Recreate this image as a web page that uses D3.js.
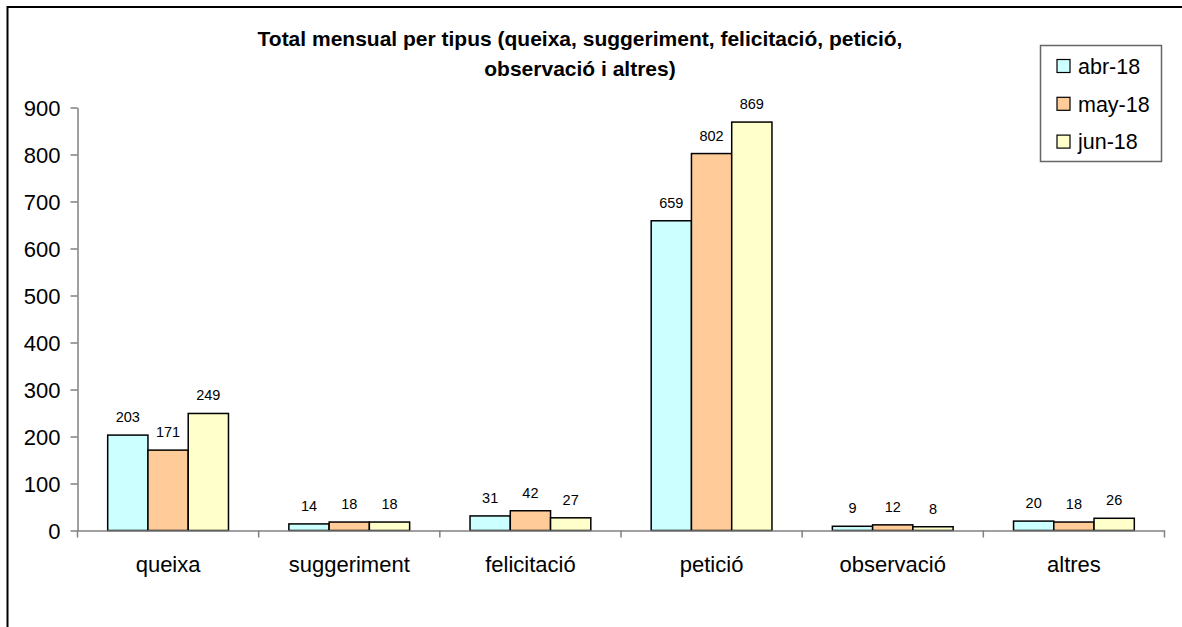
<!DOCTYPE html>
<html>

<head>
  <meta charset="utf-8">
  <title>Total mensual per tipus</title>
  <script src="https://d3js.org/d3.v7.min.js"></script>
  <style type="text/css">
    body {
      margin: 0;
      background: #fff;
    }

    svg {
      display: block;
      font-family: "Liberation Sans", Arial, sans-serif;
    }

    .axis path,
    .axis line {
      stroke: #808080;
      stroke-width: 1.5px;
    }

    .axis text {
      fill: #000;
    }

    .bar {
      stroke: #000;
      stroke-width: 1.5px;
    }
  </style>
</head>

<body>
  <svg id="chart" width="1182" height="627"></svg>
  <script>
    // dades llegides del gràfic
    var categories = ["queixa", "suggeriment", "felicitació", "petició", "observació", "altres"];
    var months = ["abr-18", "may-18", "jun-18"];
    var abr18 = [203, 14, 31, 659, 9, 20];
    var may18 = [171, 18, 42, 802, 12, 18];
    var jun18 = [249, 18, 27, 869, 8, 26];
    var yTicks = [0, 100, 200, 300, 400, 500, 600, 700, 800, 900];
    var colors = ["#ccffff", "#ffcc99", "#ffffcc"];
    var titleLines = ["Total mensual per tipus (queixa, suggeriment, felicitació, petició,", "observació i altres)"];

    var series = [abr18, may18, jun18];

    var svg = d3.select("#chart");

    // marc exterior (només es veuen els costats superior i esquerre)
    svg.append("rect")
      .attr("x", 7.5)
      .attr("y", 7)
      .attr("width", 1200)
      .attr("height", 700)
      .attr("fill", "none")
      .attr("stroke", "#000")
      .attr("stroke-width", 2);

    // escales
    var x0 = d3.scaleBand()
      .domain(categories)
      .range([77.5, 1164.5])
      .paddingInner(0)
      .paddingOuter(0);

    var x1 = d3.scaleBand()
      .domain(d3.range(months.length))
      .range([0, x0.bandwidth()])
      .paddingOuter(0.75)
      .paddingInner(0);

    var y = d3.scaleLinear()
      .domain([0, 900])
      .range([530.5, 107.5]);

    // eix Y
    var yAxis = svg.append("g")
      .attr("class", "axis")
      .attr("transform", "translate(77.5,0)")
      .call(d3.axisLeft(y).tickValues(yTicks).tickSize(7).tickSizeOuter(0).tickPadding(10));
    yAxis.selectAll("text")
      .style("font-size", "22px")
      .attr("dy", "0.36em");

    // barres
    var groups = svg.selectAll(".group")
      .data(categories)
      .enter()
      .append("g")
      .attr("class", "group")
      .attr("transform", function (d) { return "translate(" + x0(d) + ",0)"; });

    groups.selectAll(".bar")
      .data(function (d, i) {
        return series.map(function (s, j) { return { m: j, value: s[i] }; });
      })
      .enter()
      .append("rect")
      .attr("class", "bar")
      .attr("x", function (d) { return x1(d.m); })
      .attr("width", x1.bandwidth())
      .attr("y", function (d) { return y(d.value); })
      .attr("height", function (d) { return y(0) - y(d.value); })
      .attr("fill", function (d) { return colors[d.m]; });

    // etiquetes de valor
    groups.selectAll(".val")
      .data(function (d, i) {
        return series.map(function (s, j) { return { m: j, value: s[i] }; });
      })
      .enter()
      .append("text")
      .attr("class", "val")
      .attr("x", function (d) { return x1(d.m) + x1.bandwidth() / 2; })
      .attr("y", function (d) { return y(d.value) - 13; })
      .attr("text-anchor", "middle")
      .style("font-size", "14.5px")
      .text(function (d) { return d.value; });

    // eix X
    var xAxis = svg.append("g")
      .attr("class", "axis")
      .attr("transform", "translate(0," + y(0) + ")")
      .call(d3.axisBottom(x0).tickSize(0).tickSizeOuter(0).tickPadding(26));
    xAxis.selectAll("text")
      .style("font-size", "22px");
    // separadors entre categories (inclòs l'inici de l'eix)
    var edges = [x0.range()[0]].concat(categories.map(function (d) { return x0(d) + x0.bandwidth(); }));
    xAxis.selectAll(".sep")
      .data(edges)
      .enter()
      .append("line")
      .attr("class", "sep")
      .attr("x1", function (d) { return d; })
      .attr("x2", function (d) { return d; })
      .attr("y1", 0)
      .attr("y2", 7);

    // títol
    svg.append("g")
      .selectAll("text")
      .data(titleLines)
      .enter()
      .append("text")
      .attr("x", 580)
      .attr("y", function (d, i) { return 46 + i * 29.5; })
      .attr("text-anchor", "middle")
      .style("font-size", "21px")
      .style("font-weight", "bold")
      .text(function (d) { return d; });

    // llegenda
    var legend = svg.append("g");
    legend.append("rect")
      .attr("x", 1040.5)
      .attr("y", 45.5)
      .attr("width", 121)
      .attr("height", 116)
      .attr("fill", "#fff")
      .attr("stroke", "#666")
      .attr("stroke-width", 1.5);

    var items = legend.selectAll(".item")
      .data(months)
      .enter()
      .append("g")
      .attr("class", "item")
      .attr("transform", function (d, i) { return "translate(1057," + (66 + i * 37.8) + ")"; });
    items.append("rect")
      .attr("x", 0)
      .attr("y", -6.5)
      .attr("width", 13)
      .attr("height", 13)
      .attr("fill", function (d, i) { return colors[i]; })
      .attr("stroke", "#000")
      .attr("stroke-width", 1.2);
    items.append("text")
      .attr("x", 21)
      .attr("y", 0)
      .attr("dy", "0.36em")
      .style("font-size", "21.5px")
      .text(function (d) { return d; });
  </script>
</body>

</html>
